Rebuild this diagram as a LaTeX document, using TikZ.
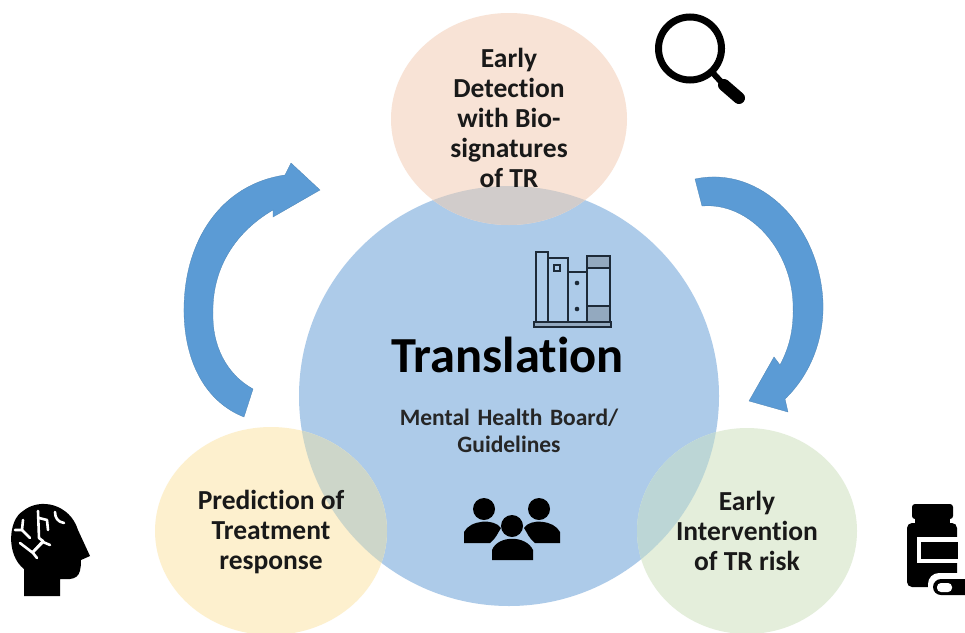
\documentclass[tikz,border=0pt]{standalone}
\usepackage{fontspec}
\setmainfont[RawFeature={-liga}]{Carlito}
\usepackage{tikz}

\definecolor{bluefill}{HTML}{ADCBE9}
\definecolor{arrowblue}{HTML}{5B9BD5}
\definecolor{peachfill}{HTML}{F8E3D6}
\definecolor{yellowfill}{HTML}{FDF0CE}
\definecolor{greenfill}{HTML}{E4EEDB}
\definecolor{overlapgrey}{HTML}{D1CCCB}
\definecolor{overlapyellow}{HTML}{CDD6C9}
\definecolor{overlapgreen}{HTML}{BCD6D6}
\definecolor{bookline}{HTML}{1D2A38}
\definecolor{bookband}{HTML}{93A9BF}

\tikzset{
  label/.style={align=center,font=\bfseries\fontsize{27.5}{30}\selectfont,text=black!90},
  bigarrow/.style={fill=arrowblue,draw=arrowblue!85!black,line width=0.3pt},
  iconline/.style={draw=bookline,line width=2.2pt},
  circuit/.style={white,line width=2.6pt,line cap=round,line join=round},
}

\begin{document}
\begin{tikzpicture}[x=1pt,y=-1pt]
\useasboundingbox (0,0) rectangle (965,632);
\clip (0,0) rectangle (965,632);
\fill[white] (0,0) rectangle (965,632);
% circles
\fill[bluefill] (509,396) circle [radius=210];
\fill[peachfill] (509,119) ellipse [x radius=118,y radius=106];
\fill[yellowfill] (271,531) ellipse [x radius=116,y radius=104];
\fill[greenfill] (747,531) ellipse [x radius=110,y radius=103];
% overlaps
\begin{scope}
\clip (509,396) circle [radius=210];
\fill[overlapgrey] (509,119) ellipse [x radius=118,y radius=106];
\fill[overlapyellow] (271,531) ellipse [x radius=116,y radius=104];
\fill[overlapgreen] (747,531) ellipse [x radius=110,y radius=103];
\end{scope}
% arrows
\draw[bigarrow] (244,417) -- (253,389) .. controls (226,374) and (212,345) .. (213,313)
  .. controls (212,272) and (232,234) .. (273,210) -- (273,217) -- (320,190) -- (291,163) -- (285,175)
  .. controls (222,184) and (183,240) .. (184,313) .. controls (185,363) and (206,402) .. (244,417) -- cycle;
\draw[bigarrow] (695,179) -- (702,206) .. controls (750,202) and (791,250) .. (793,303)
  .. controls (794,328) and (790,346) .. (780,365) -- (774,357) -- (749,401) -- (788,412) -- (785,399)
  .. controls (810,375) and (824,340) .. (823,303) .. controls (820,225) and (760,165) .. (695,179) -- cycle;
% labels
\node[label] (early) at (509,118) {Early\\Detection\\with Bio-\\signatures\\of TR};
\node[label] (pred) at (271,532) {Prediction of\\Treatment\\response};
\node[label] (interv) at (747,531) {Early\\Intervention\\of TR risk};
\node[font=\bfseries\fontsize{50.5}{56}\selectfont] (trans) at (507.5,355) {Translation};
\node[align=center,font=\bfseries\fontsize{23.5}{27}\selectfont,text=black!85] (guide) at (509,431) {Mental\hspace{0.1em} Health\hspace{0.1em} Board/\\Guidelines};
% magnifier
\draw[line width=7pt,black] (690,48.5) circle [radius=31.5];
\draw[line width=6pt,black] (712,72) -- (724,85);
\draw[line width=12pt,black,line cap=round] (724,85) -- (739,98);
% books
\fill[bookband] (587,256) rectangle (610,268) (587,306) rectangle (610,322) (534,322) rectangle (611,327);
\draw[iconline] (536,252) rectangle (548,322);
\draw[iconline] (548,258) rectangle (568,322);
\draw[iconline] (568,272) rectangle (587,322);
\draw[iconline] (587,256) rectangle (610,322);
\draw[iconline] (587,268) -- (610,268) (587,306) -- (610,306);
\draw[iconline] (534,322) rectangle (611,327);
\draw[iconline] (554,265) rectangle (560,271);
\fill[bookline] (577,283) circle [radius=2.3] (577,309) circle [radius=2.3];
% people
\fill[black] (484,509) circle [radius=11] (539,509) circle [radius=11];
\fill[black] (464,543) -- (464,532) .. controls (470,520) and (494,518) .. (501,528) .. controls (497,534) and (497,537) .. (490,543) -- cycle;
\fill[black] (560,543) -- (560,532) .. controls (554,520) and (530,518) .. (524,528) .. controls (528,534) and (528,537) .. (535,543) -- cycle;
\fill[black] (512,526) circle [radius=11];
\fill[black] (492,560) -- (492,550) .. controls (498,535) and (526,535) .. (533,550) -- (533,560) -- cycle;
% head
\fill[black] (24,596) -- (24,569) .. controls (6,555) and (8,520) .. (23,511)
  .. controls (40,497) and (70,504) .. (78,530) -- (90,556) -- (81,560) .. controls (81,578) and (76,580) .. (60,579) -- (60,596) -- cycle;
\draw[circuit] (38,511) -- (39,538) -- (43,541) -- (33,552);
\draw[circuit] (39,518) -- (47,520) -- (48,530);
\draw[circuit] (23,520) -- (22,530) -- (15,530);
\draw[circuit] (22,530) -- (30,538);
\draw[circuit] (20,543) -- (33,553) -- (37,558);
\draw[circuit] (33,552) -- (43,542) -- (50,545);
\draw[circuit] (55,512) .. controls (55,518) and (58,522) .. (64,523);
% bottle
\fill[black,rounded corners=3pt] (912,504) rectangle (953,519);
\fill[black] (915,516) rectangle (950,526);
\fill[black,rounded corners=5pt] (907,523) -- (957,523) -- (957,587) -- (907,587) -- cycle;
\fill[white] (917,537) rectangle (958,563);
\fill[black] (921,542) rectangle (958,559);
\fill[white,rounded corners=11pt] (928,573) rectangle (990,601);
\fill[black,rounded corners=8pt] (933,579) rectangle (985,595);
\fill[white,rounded corners=4pt] (937,583) rectangle (952,592);
\end{tikzpicture}
\end{document}
